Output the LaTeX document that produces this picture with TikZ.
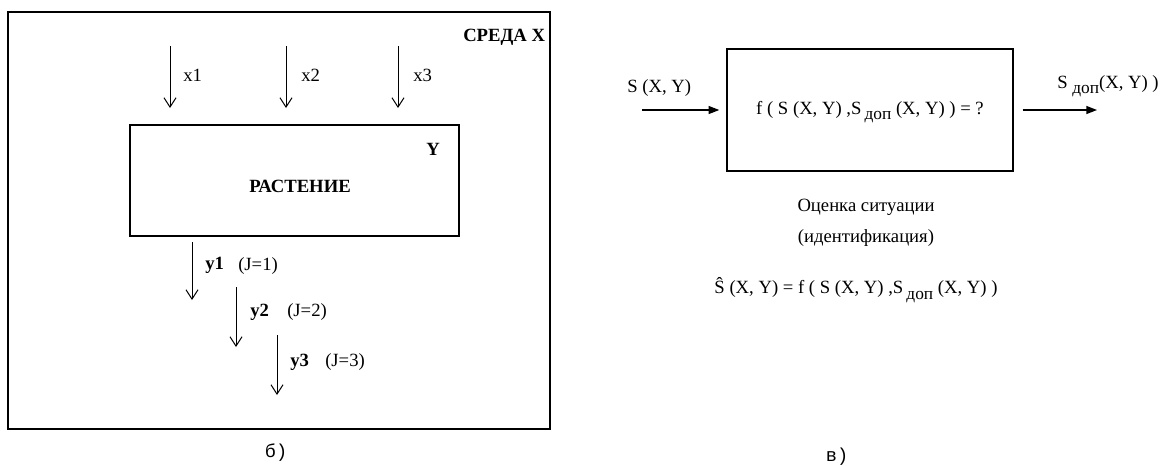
\documentclass[tikz,border=0pt]{standalone}
\usepackage{fontspec}
\setmainfont{Liberation Serif}
\newfontfamily\monof{Liberation Mono}
\usetikzlibrary{arrows.meta}
\newcommand\dopsub{\raisebox{-4pt}{\fontsize{13}{13}\selectfont доп}}
\begin{document}
\begin{tikzpicture}[x=0.75pt,y=-0.75pt,
  font=\fontsize{14}{16}\selectfont,
  frame/.style={draw, line width=1.2pt, inner sep=0pt},
  openarr/.style={-{Straight Barb[length=7pt,width=9pt]}, line width=0.75pt},
  solidarr/.style={-{Triangle[length=8pt,width=6pt]}, line width=1pt},
  lbl/.style={inner sep=0pt},
  bl/.style={inner sep=0pt, font=\fontsize{14}{16}\selectfont\bfseries}]
\useasboundingbox (0,0) rectangle (1168,465);

% ---------- left panel ----------
\node[frame, minimum width=406.5pt, minimum height=312.75pt] (env) at (279,220.5) {};
\node[frame, minimum width=246.75pt, minimum height=83.25pt] (plant) at (294.5,180.5) {};

\node[bl, anchor=west] (sreda) at (463,37) {СРЕДА X};
\node[bl] (ylab) at (433,149) {Y};
\node[bl] (rast) at (300,186) {РАСТЕНИЕ};

\coordinate (x1s) at (170,46);  \coordinate (x1e) at (170,108);
\coordinate (x2s) at (286,46);  \coordinate (x2e) at (286,108);
\coordinate (x3s) at (398,46);  \coordinate (x3e) at (398,108);
\draw[openarr] (x1s) -- (x1e);
\draw[openarr] (x2s) -- (x2e);
\draw[openarr] (x3s) -- (x3e);
\node[lbl, anchor=west] (lx1) at (183,75) {x1};
\node[lbl, anchor=west] (lx2) at (301,75) {x2};
\node[lbl, anchor=west] (lx3) at (413,75) {x3};

\coordinate (y1s) at (192,242); \coordinate (y1e) at (192,300);
\coordinate (y2s) at (236,287); \coordinate (y2e) at (236,347);
\coordinate (y3s) at (277,335); \coordinate (y3e) at (277,395);
\draw[openarr] (y1s) -- (y1e);
\draw[openarr] (y2s) -- (y2e);
\draw[openarr] (y3s) -- (y3e);
\node[bl, anchor=west] (ly1) at (205,265) {y1};
\node[lbl, anchor=west] (j1) at (238,266) {(J=1)};
\node[bl, anchor=west] (ly2) at (250,312) {y2};
\node[lbl, anchor=west] (j2) at (287,312) {(J=2)};
\node[bl, anchor=west] (ly3) at (290,362) {y3};
\node[lbl, anchor=west] (j3) at (325,362) {(J=3)};

\node[lbl, font=\monof\fontsize{14}{16}\selectfont] (capb) at (276,453) {б)};

% ---------- right panel ----------
\node[frame, line width=1.1pt, minimum width=214.5pt, minimum height=91.5pt] (fbox) at (870,110) {};
\node[lbl] (fform) at (870,112) {f ( S (X, Y) ,S\,\dopsub\ (X, Y) ) = ?};

\coordinate (ins) at (642,110);
\coordinate (oute) at (1097,110);
\draw[solidarr, shorten >=5.25pt] (ins) -- (fbox.west |- ins);
\draw[solidarr, shorten <=6.75pt] (fbox.east |- oute) -- (oute);
\node[lbl, anchor=west] (lin) at (627,88) {S (X, Y)};
\node[lbl, anchor=west] (lout) at (1057,86) {S \dopsub(X, Y) )};

\node[lbl] (oc) at (866,207) {Оценка ситуации};
\node[lbl] (ident) at (866,238) {(идентификация)};
\node[lbl] (sform) at (856,290) {Ŝ (X, Y) = f ( S (X, Y) ,S\,\dopsub\ (X, Y) )};

\node[lbl, font=\monof\fontsize{14}{16}\selectfont] (capv) at (837,457) {в)};
\end{tikzpicture}
\end{document}
